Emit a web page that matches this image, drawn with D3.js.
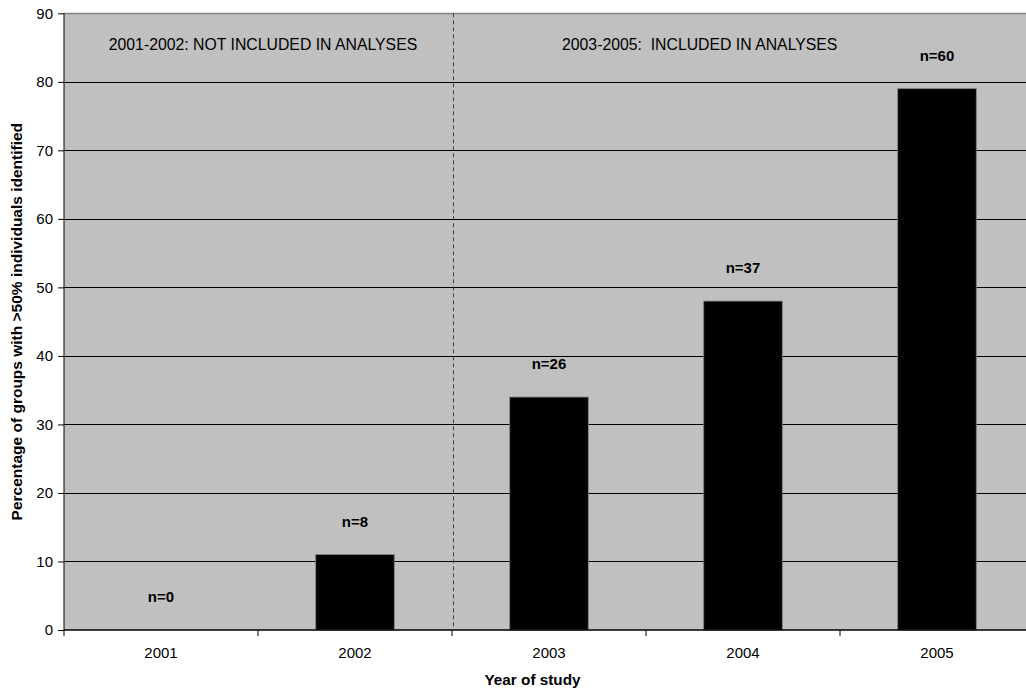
<!DOCTYPE html>
<html><head><meta charset="utf-8">
<script src="https://cdn.jsdelivr.net/npm/d3@7"></script>
<style>body{margin:0;background:#fff}svg{display:block;font-family:"Liberation Sans",Arial,sans-serif}</style>
</head><body>
<svg id="c" width="1026" height="689"></svg>
<script>
const years = ["2001","2002","2003","2004","2005"];
const percentages = [0, 11, 34, 48, 79];
const nLabels = ["n=0","n=8","n=26","n=37","n=60"];
const yTicks = [0,10,20,30,40,50,60,70,80,90];
const regionLabels = ["2001-2002: NOT INCLUDED IN ANALYSES", "2003-2005:  INCLUDED IN ANALYSES"];

(function(){
const svg = d3.select("#c");
const pLeft = 64, pRight = 1034, pTop = 13.3, pBottom = 630;
const x = d3.scaleBand().domain(years).range([pLeft, pRight]).paddingInner(0.595).paddingOuter(0.2975);
const xb = d3.scaleBand().domain(years).range([pLeft, pRight]);
const y = d3.scaleLinear().domain([0, 90]).range([pBottom, pTop]);
const FF = "Liberation Sans, Arial, sans-serif";

svg.append("rect").attr("x", pLeft).attr("y", pTop).attr("width", pRight-pLeft).attr("height", pBottom-pTop).attr("fill", "#c0c0c0");

// gridlines
svg.append("g").selectAll("line").data(yTicks.slice(1, -1)).join("line")
  .attr("x1", pLeft).attr("x2", pRight).attr("y1", d=>Math.round(y(d))+0.5).attr("y2", d=>Math.round(y(d))+0.5)
  .attr("stroke", "#000").attr("stroke-width", 1);
// top border
svg.append("line").attr("x1", pLeft).attr("x2", pRight).attr("y1", Math.round(pTop)+0.5).attr("y2", Math.round(pTop)+0.5).attr("stroke", "#808080").attr("stroke-width", 1.5);

// dashed separator between 2002 and 2003
const sepX = xb("2003");
svg.append("line").attr("x1", sepX+1.5).attr("x2", sepX+1.5).attr("y1", pTop).attr("y2", pBottom)
  .attr("stroke", "#404040").attr("stroke-width", 1).attr("stroke-dasharray", "4,3");

// bars
svg.append("g").selectAll("rect").data(years).join("rect")
  .attr("x", d=>x(d)).attr("width", x.bandwidth())
  .attr("y", (d,i)=>y(percentages[i])).attr("height", (d,i)=>pBottom - y(percentages[i]))
  .attr("fill", "#000").attr("stroke", "#808080").attr("stroke-width", 0.8)
  .attr("display", (d,i)=>percentages[i] > 0 ? null : "none");

// n labels
svg.append("g").selectAll("text").data(years).join("text")
  .attr("x", d=>x(d)+x.bandwidth()/2).attr("y", (d,i)=>y(percentages[i]) - 28)
  .attr("text-anchor", "middle").attr("font-size", 15).attr("font-weight", "bold").attr("fill", "#000")
  .text((d,i)=>nLabels[i]);

// region labels
svg.append("text").attr("x", 263).attr("y", 49.5).attr("text-anchor", "middle")
  .attr("font-size", 15.8).attr("fill", "#000").text(regionLabels[0]);
svg.append("text").attr("x", 562).attr("y", 49.5).attr("text-anchor", "start")
  .attr("font-size", 15.8).attr("fill", "#000").style("white-space", "pre").text(regionLabels[1]);

// y axis
const ya = svg.append("g").attr("transform", `translate(${pLeft},0)`)
  .call(d3.axisLeft(y).tickValues(yTicks).tickSize(6).tickPadding(5));
ya.selectAll("text").attr("font-size", 15).attr("font-family", FF).attr("fill", "#000");
ya.select(".domain").attr("d", `M0,${pTop}V${pBottom}`).attr("stroke", "#000");

// x axis
const xa = svg.append("g").attr("transform", `translate(0,${pBottom})`)
  .call(d3.axisBottom(x).tickSize(0).tickPadding(17));
xa.select(".domain").attr("d", `M${pLeft},0H${pRight}`).attr("stroke", "#000").attr("stroke-width", 1.5);
xa.selectAll("text").attr("font-size", 15).attr("font-family", FF).attr("fill", "#000");
svg.append("g").selectAll("line").data(years).join("line")
  .attr("x1", d=>xb(d)).attr("x2", d=>xb(d)).attr("y1", pBottom).attr("y2", pBottom+6).attr("stroke", "#000");

// axis titles
svg.append("text").attr("x", 532.5).attr("y", 685).attr("text-anchor", "middle")
  .attr("font-size", 15.3).attr("font-weight", "bold").text("Year of study");
svg.append("text").attr("transform", `translate(22,${(pTop+pBottom)/2}) rotate(-90)`).attr("text-anchor", "middle")
  .attr("font-size", 15.5).attr("font-weight", "bold").text("Percentage of groups with >50% individuals identified");
})();
</script>
</body></html>
